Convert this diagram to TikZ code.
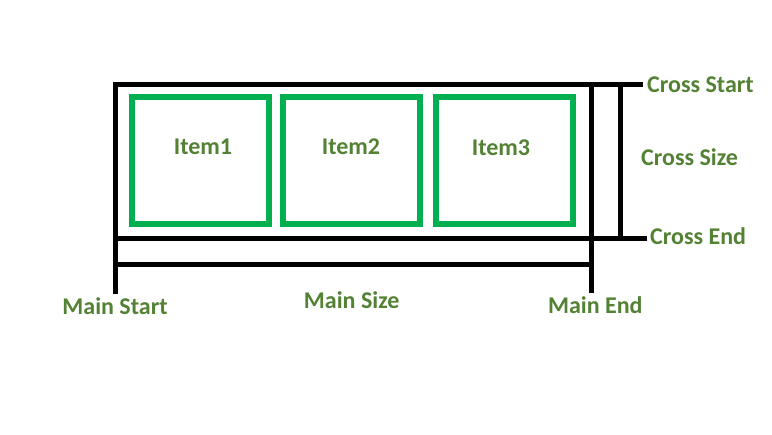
\documentclass[tikz,border=0pt]{standalone}
\usepackage{fontspec}
\setmainfont{Carlito}
\usetikzlibrary{positioning}

\definecolor{boxgreen}{RGB}{0,176,80}
\definecolor{textgreen}{RGB}{84,130,53}

\tikzset{
  axisline/.style={line width=5pt, black, line join=miter},
  itembox/.style={draw=boxgreen, line width=5.5pt, inner sep=0pt,
    minimum width=137pt, minimum height=127pt},
  flexlabel/.style={text=textgreen, inner sep=0pt,
    font=\bfseries\fontsize{24}{28}\selectfont}
}

\begin{document}
\begin{tikzpicture}[x=1pt,y=-1pt]
  \useasboundingbox[fill=white] (0,0) rectangle (772,435);

  % the three flex items
  \foreach \i/\x/\t/\b in {1/200.5/203/154.3, 2/351.5/351/154.3, 3/504.5/501/155.5}{
    \node[itembox] (item\i) at (\x,160.5) {};
    \node[flexlabel, anchor=base] (item\i-text) at (\t,\b) {Item\i};
  }

  % axis end points
  \coordinate (mainstart-top) at (115.5,84.5);
  \coordinate (mainstart-bot) at (115.5,294);
  \coordinate (mainend-top) at (591,84.5);
  \coordinate (mainend-bot) at (591,293);
  \coordinate (crossstart-end) at (643,84.5);
  \coordinate (crossend-left) at (115.5,238.5);
  \coordinate (crossend-end) at (647,238.5);
  \coordinate (mainsize-left) at (115.5,265);
  \coordinate (mainsize-right) at (591,265);
  \coordinate (crosssize-top) at (620.5,84.5);
  \coordinate (crosssize-bot) at (620.5,238.5);

  \draw[axisline] (mainstart-bot) -- (mainstart-top) -- (crossstart-end);
  \draw[axisline] (mainend-top) -- (mainend-bot);
  \draw[axisline] (crossend-left) -- (crossend-end);
  \draw[axisline] (mainsize-left) -- (mainsize-right);
  \draw[axisline] (crosssize-top) -- (crosssize-bot);

  % labels
  \node[flexlabel, anchor=base west] (crossstart) at (647,92.3) {Cross Start};
  \node[flexlabel, anchor=base west] (crosssize) at (641,166) {Cross Size};
  \node[flexlabel, anchor=base west] (crossend) at (650,245) {Cross End};
  \node[flexlabel, anchor=base] (mainstart) at (115,314.3) {Main Start};
  \node[flexlabel, anchor=base] (mainsize) at (351.7,309) {Main Size};
  \node[flexlabel, anchor=base] (mainend) at (595.3,314) {Main End};
\end{tikzpicture}
\end{document}
